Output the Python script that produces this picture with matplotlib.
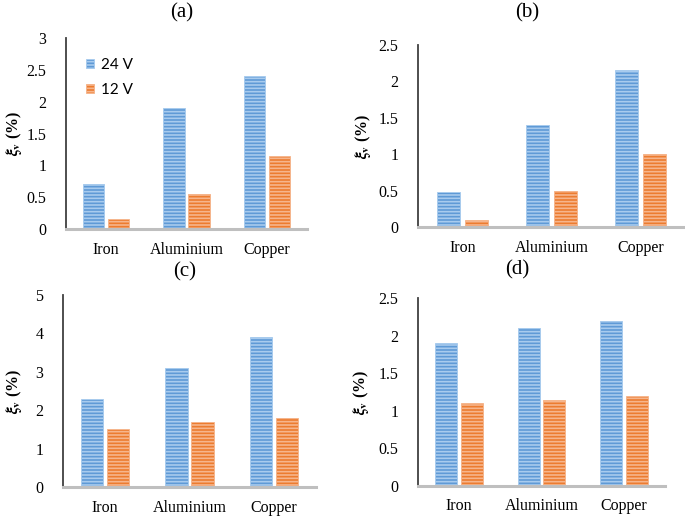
import numpy as np
import matplotlib
matplotlib.use('Agg')
import matplotlib.pyplot as plt
import matplotlib.ticker as mticker

plt.rcParams.update({
    'font.family': 'Liberation Serif',
    'mathtext.fontset': 'stix',
    'hatch.linewidth': 1.2,
})

_BLUE = '#5f9ad6'
_BLUE_STRIPE = '#a8cbee'
_ORANGE = '#ec7c30'
_ORANGE_STRIPE = '#f6b58c'
_XAXIS = '#bfbfbf'
_YAXIS = '#404040'

materials = ['Iron', 'Aluminium', 'Copper']
series_names = ['24 V', '12 V']

# values per panel: (24 V, 12 V)
a_24v = [0.70, 1.90, 2.40]
a_12v = [0.15, 0.55, 1.15]
b_24v = [0.48, 1.40, 2.15]
b_12v = [0.10, 0.50, 1.00]
c_24v = [2.30, 3.10, 3.90]
c_12v = [1.50, 1.70, 1.80]
d_24v = [1.90, 2.10, 2.20]
d_12v = [1.10, 1.15, 1.20]

panel_labels = ['(a)', '(b)', '(c)', '(d)']
y_max = [3, 2.5, 5, 2.5]
y_step = [0.5, 0.5, 1, 0.5]

W, H = 685, 518
fig = plt.figure(figsize=(W / 100, H / 100), dpi=100)

# axes rectangles in pixels: left, right, bottom(zero line), top
rects_px = [
    (66, 307, 229, 38),
    (418, 685, 227, 45),
    (63, 316, 487, 295),
    (418, 665, 486, 298),
]
title_px = [(182, 13), (527, 13), (185, 272), (517, 270)]
ylab_x = [14, 363, 14, 361]

data = [(a_24v, a_12v), (b_24v, b_12v), (c_24v, c_12v), (d_24v, d_12v)]

x = np.arange(len(materials))
width = 0.265
offset = 0.155

for i, ((v24, v12), (l, r, b, t)) in enumerate(zip(data, rects_px)):
    ax = fig.add_axes([l / W, 1 - b / H, (r - l) / W, (b - t) / H])
    ax.bar(x - offset, v24, width, color=_BLUE,
           edgecolor=_BLUE_STRIPE, hatch='-----', lw=0.6,
           label=series_names[0])
    ax.bar(x + offset, v12, width, color=_ORANGE,
           edgecolor=_ORANGE_STRIPE, hatch='-----', lw=0.6,
           label=series_names[1])
    ax.set_xlim(-0.5, 2.5)
    ax.set_ylim(0, y_max[i])
    ax.yaxis.set_major_locator(mticker.MultipleLocator(y_step[i]))
    ax.yaxis.set_major_formatter(mticker.FormatStrFormatter('%g'))
    ax.set_xticks(x)
    ax.set_xticklabels(materials)
    ax.tick_params(axis='both', length=0, labelsize=11.5)
    ax.tick_params(axis='y', pad=14)
    ax.tick_params(axis='x', pad=9)
    for s in ('top', 'right'):
        ax.spines[s].set_visible(False)
    ax.spines['left'].set_color(_YAXIS)
    ax.spines['left'].set_linewidth(1.3)
    ax.spines['bottom'].set_color(_XAXIS)
    ax.spines['bottom'].set_linewidth(2.2)
    ax.patch.set_visible(False)

    fig.text(title_px[i][0] / W, 1 - title_px[i][1] / H, panel_labels[i],
             ha='center', va='center', fontsize=15)
    fig.text(ylab_x[i] / W, 1 - ((b + t) / 2) / H,
             r'$\boldsymbol{\xi}_{\mathbf{v}}$ (%)',
             rotation=90, ha='center', va='center', fontsize=11.5,
             fontweight='bold')

    if i == 0:
        ax.legend(loc='upper left', bbox_to_anchor=(78 / W, 1 - 50 / H),
                  bbox_transform=fig.transFigure, frameon=False,
                  handlelength=0.55, handleheight=0.55, handletextpad=0.45,
                  labelspacing=0.75, borderpad=0,
                  prop={'family': 'Lato', 'size': 11})

fig.savefig('out.png', dpi=100)
